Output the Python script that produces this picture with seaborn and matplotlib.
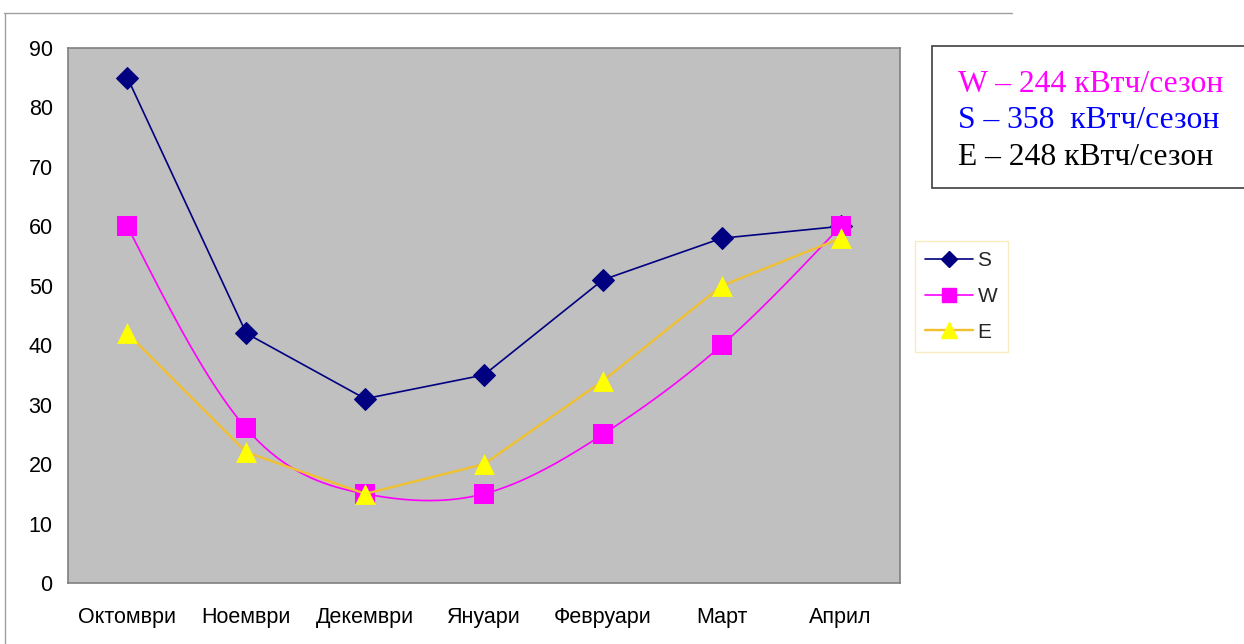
import numpy as np
import pandas as pd
import seaborn as sns
import matplotlib
matplotlib.use("Agg")
import matplotlib.pyplot as plt
from matplotlib.lines import Line2D

# Monthly values per orientation
months = ["Октомври", "Ноември", "Декември", "Януари", "Февруари", "Март", "Април"]
s_values = [85, 42, 31, 35, 51, 58, 60]
w_values = [60, 26, 15, 15, 25, 40, 60]
e_values = [42, 22, 15, 20, 34, 50, 58]
series_names = ["S", "W", "E"]
season_totals = ["W – 244 кВтч/сезон", "S – 358  кВтч/сезон", "E – 248 кВтч/сезон"]
y_ticks = [0, 10, 20, 30, 40, 50, 60, 70, 80, 90]

sns.set_theme(style="white")
plt.rcParams["font.family"] = ["Liberation Sans", "DejaVu Sans"]


def natural_spline(y, steps=40):
    """Natural cubic spline through equally spaced points."""
    y = np.asarray(y, dtype=float)
    n = len(y)
    A = np.zeros((n, n))
    b = np.zeros(n)
    A[0, 0] = A[-1, -1] = 1.0
    for i in range(1, n - 1):
        A[i, i - 1], A[i, i], A[i, i + 1] = 1.0, 4.0, 1.0
        b[i] = 6.0 * (y[i + 1] - 2 * y[i] + y[i - 1])
    M = np.linalg.solve(A, b)
    xs, ys = [], []
    for i in range(n - 1):
        t = np.linspace(0, 1, steps, endpoint=(i == n - 2))
        seg = (M[i] * (1 - t) ** 3 / 6 + M[i + 1] * t ** 3 / 6
               + (y[i] - M[i] / 6) * (1 - t) + (y[i + 1] - M[i + 1] / 6) * t)
        xs.append(i + t)
        ys.append(seg)
    return np.concatenate(xs), np.concatenate(ys)


pos = np.arange(len(months))
df = pd.DataFrame({"pos": pos, "S": s_values, "W": w_values, "E": e_values})
wx, wy = natural_spline(w_values)
curve = pd.DataFrame({"pos": wx, "W": wy})

fig = plt.figure(figsize=(12.44, 6.44), dpi=100)
fig.patch.set_facecolor("white")
ax = fig.add_axes([68 / 1244, 1 - 583 / 644, 832 / 1244, 535 / 644])
ax.set_facecolor("#C0C0C0")

s_col, w_col, e_line, e_mark = "#000080", "#FF00FF", "#F0C030", "#FFFF00"

# S: straight segments with diamonds
sns.lineplot(data=df, x="pos", y="S", ax=ax, color=s_col, linewidth=1.2,
             marker="D", markersize=11, markeredgecolor=s_col,
             markerfacecolor=s_col, zorder=3)
# W: smoothed curve with squares
sns.lineplot(data=curve, x="pos", y="W", ax=ax, color=w_col, linewidth=1.2,
             zorder=4)
sns.scatterplot(data=df, x="pos", y="W", ax=ax, marker="s", s=14.5 ** 2,
                color=w_col, edgecolor=w_col, linewidth=0, zorder=5)
# E: straight segments with triangles
sns.lineplot(data=df, x="pos", y="E", ax=ax, color=e_line, linewidth=1.7,
             zorder=6)
sns.scatterplot(data=df, x="pos", y="E", ax=ax, marker="^", s=15 ** 2,
                color=e_mark, edgecolor=e_mark, linewidth=0, zorder=7)

ax.set_xlim(-0.5, len(months) - 0.5)
ax.set_ylim(0, 90)
ax.set_xticks(pos)
ax.set_xticklabels(months, fontsize=15.5, color="black")
ax.set_yticks(y_ticks)
ax.set_yticklabels([str(v) for v in y_ticks], fontsize=15.5, color="black")
ax.tick_params(axis="x", length=0, pad=17)
ax.tick_params(axis="y", length=0, pad=11)
ax.set_xlabel("")
ax.set_ylabel("")
for sp in ax.spines.values():
    sp.set_visible(True)
    sp.set_color("#808080")
    sp.set_linewidth(1.2)

# Legend
handles = [
    Line2D([], [], color=s_col, linewidth=1.2, marker="D", markersize=8,
           markerfacecolor=s_col, markeredgecolor=s_col),
    Line2D([], [], color=w_col, linewidth=1.2, marker="s", markersize=10,
           markerfacecolor=w_col, markeredgecolor=w_col),
    Line2D([], [], color=e_line, linewidth=1.7, marker="^", markersize=11,
           markerfacecolor=e_mark, markeredgecolor=e_mark),
]
leg = fig.legend(handles, series_names, loc="upper left",
                 bbox_to_anchor=(915 / 1244, 1 - 241 / 644),
                 fontsize=15, frameon=True, fancybox=False,
                 handlelength=2.3, handletextpad=0.2, borderpad=0.5,
                 labelspacing=0.8, borderaxespad=0)
leg.get_frame().set_edgecolor("#F5E6B0")
leg.get_frame().set_linewidth(1.0)

# Season totals box
box = plt.Rectangle((932 / 1244, 1 - 188 / 644), 0.3, 142 / 644,
                    transform=fig.transFigure, facecolor="white",
                    edgecolor="#404040", linewidth=1.2, clip_on=False)
fig.add_artist(box)
total_colors = ["#FF00FF", "#0000FF", "black"]
for i, (txt, c) in enumerate(zip(season_totals, total_colors)):
    fig.text(958 / 1244, 1 - (92 + i * 36.5) / 644, txt, color=c,
             fontsize=22.8, family=["Liberation Serif", "DejaVu Serif"],
             ha="left", va="baseline")

# Outer chart frame (top and left edges)
fig.add_artist(Line2D([4 / 1244, 1012 / 1244], [1 - 13 / 644, 1 - 13 / 644],
                      transform=fig.transFigure, color="#A0A0A0", linewidth=1))
fig.add_artist(Line2D([5 / 1244, 5 / 1244], [1 - 13 / 644, 0],
                      transform=fig.transFigure, color="#A0A0A0", linewidth=1))

fig.savefig("out.png", dpi=100)
